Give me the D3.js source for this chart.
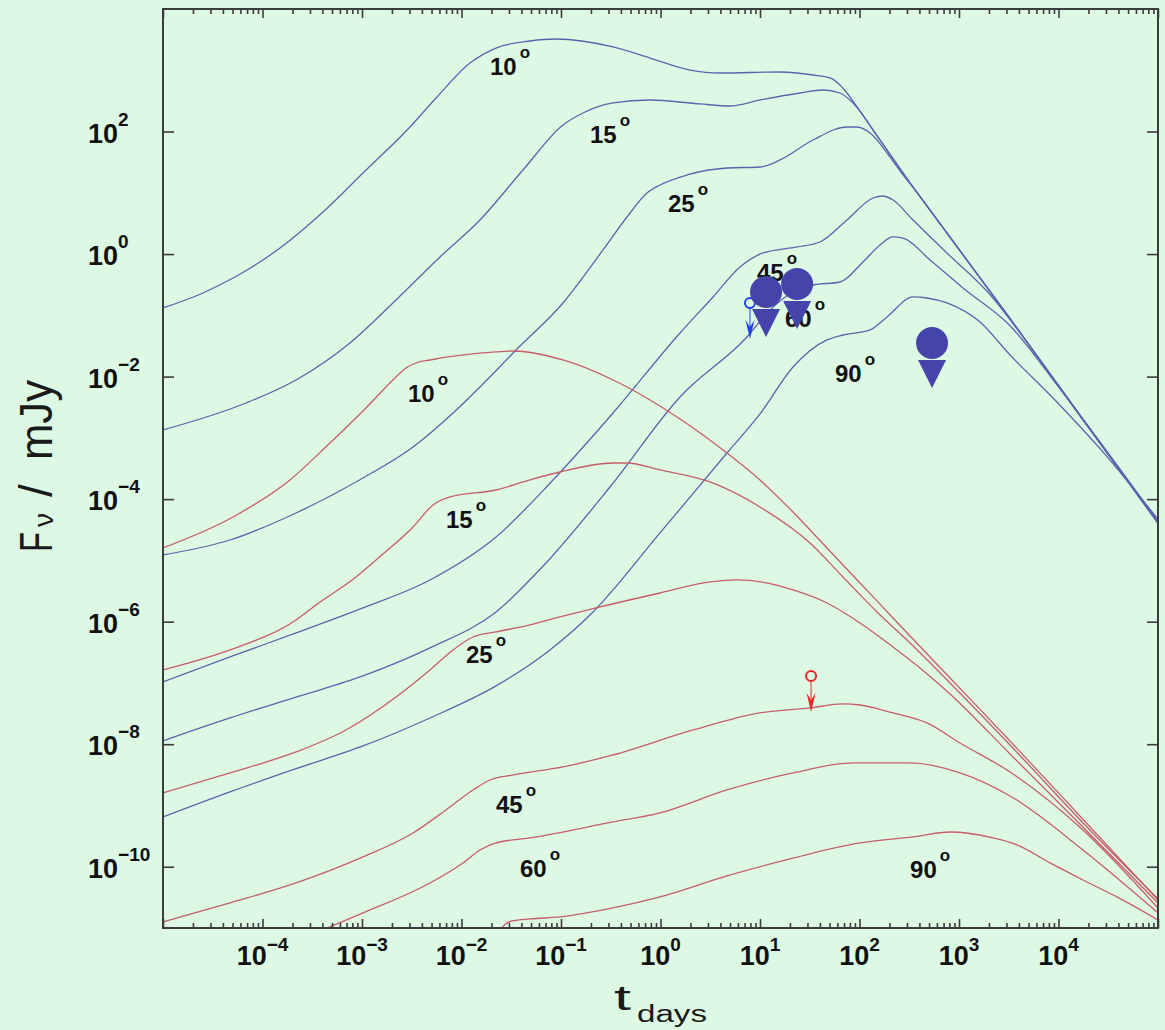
<!DOCTYPE html>
<html>
<head>
<meta charset="utf-8">
<script src="https://cdn.jsdelivr.net/npm/d3@7"></script>
<style>
  html, body { margin: 0; padding: 0; background: #ddf9e3; }
  svg { display: block; }
</style>
</head>
<body>
<svg id="chart" width="1165" height="1030"></svg>
<script>
// Afterglow light curves for several viewing angles.
// Each point is [log10 t (days), log10 F_nu (mJy)].

// Upper (blue) family
const blue10 = [[-5.000,-0.880],[-4.598,-0.635],[-4.296,-0.391],[-3.824,0.099],[-3.392,0.687],[-2.990,1.323],[-2.518,2.074],[-2.256,2.547],[-1.915,3.119],[-1.653,3.363],[-1.312,3.478],[-1.050,3.510],[-0.477,3.380],[-0.106,3.200],[0.296,3.004],[0.598,2.955],[1.201,2.972],[1.533,2.923],[1.704,2.874],[1.804,2.760],[1.874,2.629],[1.975,2.401],[2.206,1.862],[2.538,1.095],[2.879,0.344],[3.500,-1.023],[4.250,-2.706],[5.000,-4.389]];
const blue15 = [[-5.000,-2.871],[-4.166,-2.431],[-3.663,-2.055],[-3.121,-1.451],[-2.658,-0.749],[-2.216,-0.048],[-1.814,0.556],[-1.382,1.372],[-0.980,2.107],[-0.779,2.303],[-0.477,2.466],[-0.106,2.515],[0.397,2.450],[0.698,2.417],[1.000,2.515],[1.402,2.629],[1.633,2.678],[1.804,2.629],[1.925,2.482],[2.206,1.860],[2.538,1.093],[2.879,0.342],[3.500,-1.025],[4.250,-2.708],[5.000,-4.392]];
const blue25 = [[-5.000,-4.911],[-4.327,-4.667],[-3.663,-4.226],[-2.990,-3.655],[-2.487,-3.149],[-2.085,-2.594],[-1.814,-2.169],[-1.452,-1.566],[-0.980,-0.798],[-0.578,0.067],[-0.337,0.605],[-0.136,0.997],[-0.005,1.127],[0.266,1.291],[0.668,1.405],[1.000,1.421],[1.201,1.536],[1.533,1.862],[1.874,2.074],[1.975,2.074],[2.106,1.976],[2.307,1.584],[2.437,1.291],[2.538,1.090],[2.879,0.340],[3.500,-1.027],[4.250,-2.710],[5.000,-4.394]];
const blue45 = [[-5.000,-6.984],[-4.327,-6.576],[-3.663,-6.184],[-2.990,-5.776],[-2.317,-5.320],[-1.653,-4.618],[-1.080,-3.687],[-0.477,-2.594],[0.196,-1.288],[0.528,-0.700],[0.799,-0.211],[1.030,0.018],[1.372,0.116],[1.603,0.197],[1.874,0.556],[2.136,0.915],[2.236,0.948],[2.337,0.883],[2.538,0.556],[2.879,0.018],[3.342,-0.717],[3.513,-1.070],[4.250,-2.720],[5.000,-4.375]];
const blue60 = [[-5.000,-7.947],[-4.327,-7.572],[-3.623,-7.213],[-2.990,-6.886],[-2.317,-6.429],[-1.653,-5.842],[-1.151,-5.042],[-0.508,-3.802],[0.196,-2.333],[0.869,-1.353],[1.101,-0.913],[1.332,-0.619],[1.533,-0.505],[1.804,-0.456],[2.035,-0.129],[2.206,0.148],[2.337,0.279],[2.437,0.262],[2.709,-0.097],[3.040,-0.554],[3.513,-1.170],[4.015,-2.200],[5.000,-4.360]];
const blue90 = [[-5.000,-9.188],[-4.327,-8.779],[-3.663,-8.400],[-2.990,-8.029],[-2.317,-7.572],[-1.653,-7.049],[-1.111,-6.462],[-0.678,-5.842],[-0.005,-4.552],[0.668,-3.247],[1.000,-2.610],[1.332,-1.843],[1.673,-1.402],[1.834,-1.321],[2.106,-1.239],[2.276,-1.027],[2.538,-0.700],[2.678,-0.717],[2.879,-0.798],[3.211,-1.109],[3.513,-1.647],[3.945,-2.350],[4.500,-3.330],[5.000,-4.330]];

// Lower (red) family
const red10 = [[-5.000,-4.797],[-4.296,-4.291],[-3.724,-3.687],[-3.322,-3.083],[-2.990,-2.561],[-2.658,-2.006],[-2.558,-1.859],[-2.457,-1.778],[-2.317,-1.729],[-1.653,-1.598],[-1.482,-1.582],[-0.980,-1.729],[-0.477,-2.055],[-0.337,-2.169],[0.166,-2.659],[0.668,-3.247],[1.000,-3.687],[1.332,-4.210],[1.673,-4.797],[2.005,-5.368],[2.337,-5.940],[2.910,-6.919],[3.513,-7.947],[4.250,-9.233],[5.000,-10.542]];
const red15 = [[-5.000,-6.788],[-4.327,-6.462],[-3.663,-5.972],[-3.462,-5.727],[-3.060,-5.271],[-2.859,-4.993],[-2.487,-4.454],[-2.286,-4.095],[-2.116,-3.965],[-1.653,-3.851],[-1.312,-3.687],[-1.010,-3.557],[-0.477,-3.410],[-0.337,-3.410],[-0.005,-3.524],[0.497,-3.720],[1.000,-4.128],[1.503,-4.716],[1.834,-5.271],[2.176,-5.842],[2.508,-6.348],[2.910,-7.000],[3.513,-8.012],[4.250,-9.290],[5.000,-10.526]];
const red25 = [[-5.000,-8.796],[-4.327,-8.469],[-3.663,-8.127],[-3.161,-7.768],[-2.658,-7.229],[-2.317,-6.788],[-2.085,-6.462],[-1.884,-6.250],[-1.653,-6.168],[-1.312,-6.054],[-1.010,-5.923],[-0.648,-5.776],[-0.005,-5.532],[0.497,-5.352],[0.769,-5.319],[1.070,-5.368],[1.332,-5.483],[1.673,-5.695],[2.005,-6.021],[2.337,-6.413],[2.608,-6.756],[2.910,-7.180],[3.513,-8.159],[4.250,-9.360],[5.000,-10.591]];
const red45 = [[-5.000,-10.902],[-4.327,-10.591],[-3.663,-10.265],[-2.990,-9.840],[-2.487,-9.449],[-2.156,-9.073],[-1.884,-8.747],[-1.714,-8.584],[-1.482,-8.502],[-0.980,-8.371],[-0.477,-8.176],[0.327,-7.768],[1.000,-7.490],[1.503,-7.408],[1.834,-7.343],[2.005,-7.360],[2.337,-7.490],[2.678,-7.653],[3.010,-7.980],[3.513,-8.453],[4.246,-9.400],[5.000,-10.673]];
const red60 = [[-3.600,-11.170],[-3.322,-10.983],[-2.990,-10.754],[-2.317,-10.265],[-1.985,-9.938],[-1.814,-9.726],[-1.653,-9.612],[-1.312,-9.530],[-0.477,-9.269],[-0.005,-9.122],[0.668,-8.747],[1.332,-8.469],[1.935,-8.306],[2.508,-8.306],[3.010,-8.469],[3.513,-8.845],[4.246,-9.726],[5.000,-10.754]];
const red90 = [[-1.620,-11.100],[-1.593,-11.000],[-1.492,-10.885],[-1.312,-10.852],[-1.010,-10.820],[-0.477,-10.673],[-0.005,-10.493],[0.668,-10.150],[1.332,-9.860],[2.005,-9.612],[2.538,-9.514],[2.910,-9.433],[3.342,-9.530],[3.583,-9.644],[3.915,-9.938],[4.246,-10.216],[4.588,-10.493],[5.000,-10.869]];

// Angle labels, anchored in data space [log10 t, log10 F]
const angleNames = ["10", "15", "25", "45", "60", "90"];
const blueLabelAt = [[-1.714,2.923],[-0.709,1.813],[0.075,0.687],[0.970,-0.439],[1.251,-1.190],[1.754,-2.088]];
const redLabelAt  = [[-2.538,-2.414],[-2.156,-4.471],[-1.955,-6.674],[-1.653,-9.122],[-1.412,-10.167],[2.508,-10.183]];

// Observational upper limits (t in days, F in mJy)
const limitT = [11.5, 23.6, 536];
const limitF = [0.240, 0.325, 0.0354];
const blueLimitT = [7.93];
const blueLimitF = [0.159];
const redLimitT = [32.6];
const redLimitF = [1.30e-7];

// Axis tick exponents
const xLabelExps = [-4, -3, -2, -1, 0, 1, 2, 3, 4];
const yLabelExps = [2, 0, -2, -4, -6, -8, -10];

const toLin = pts => pts.map(([a, b]) => [Math.pow(10, a), Math.pow(10, b)]);

const blueCurves = [blue10, blue15, blue25, blue45, blue60, blue90].map(toLin);
const redCurves  = [red10, red15, red25, red45, red60, red90].map(toLin);

const L = 163, R = 1158, T = 9, B = 928;
const x = d3.scaleLog().domain([1e-5, 1e5]).range([L, R]);
const y = d3.scaleLog().domain([1e-11, 1e4]).range([B, T]);

const svg = d3.select("#chart");
svg.append("rect").attr("width", 1165).attr("height", 1030).attr("fill", "#ddf9e3");

svg.append("clipPath").attr("id", "plot-clip")
  .append("rect").attr("x", L).attr("y", T).attr("width", R - L).attr("height", B - T);

// Curves
const line = d3.line().x(d => x(d[0])).y(d => y(d[1])).curve(d3.curveMonotoneX);
const curves = svg.append("g").attr("clip-path", "url(#plot-clip)").attr("fill", "none");
curves.selectAll("path.blue").data(blueCurves).join("path")
  .attr("class", "blue").attr("d", line)
  .attr("stroke", "#5b64ad").attr("stroke-width", 1.3);
curves.selectAll("path.red").data(redCurves).join("path")
  .attr("class", "red").attr("d", line)
  .attr("stroke", "#c65d68").attr("stroke-width", 1.3);

// Ticks
const xMajor = d3.range(-5, 6).map(e => Math.pow(10, e));
const xMinor = [];
for (let e = -5; e < 5; e++) for (let k = 2; k < 10; k++) xMinor.push(k * Math.pow(10, e));
const yMajor = d3.range(-10, 3, 2).map(e => Math.pow(10, e));

function styleAxis(g) {
  g.select(".domain").remove();
  g.selectAll(".tick line").attr("stroke", "#3c3c3c").attr("stroke-width", 1.6);
  g.selectAll(".tick text").remove();
}
svg.append("g").attr("transform", `translate(0,${B})`)
  .call(d3.axisBottom(x).tickValues(xMinor).tickSize(-5).tickFormat("")).call(styleAxis);
svg.append("g").attr("transform", `translate(0,${B})`)
  .call(d3.axisBottom(x).tickValues(xMajor).tickSize(-9).tickFormat("")).call(styleAxis);
svg.append("g").attr("transform", `translate(0,${T})`)
  .call(d3.axisTop(x).tickValues(xMinor).tickSize(-5).tickFormat("")).call(styleAxis);
svg.append("g").attr("transform", `translate(0,${T})`)
  .call(d3.axisTop(x).tickValues(xMajor).tickSize(-9).tickFormat("")).call(styleAxis);
svg.append("g").attr("transform", `translate(${L},0)`)
  .call(d3.axisLeft(y).tickValues(yMajor).tickSize(-11).tickFormat("")).call(styleAxis);
svg.append("g").attr("transform", `translate(${R},0)`)
  .call(d3.axisRight(y).tickValues(yMajor).tickSize(-11).tickFormat("")).call(styleAxis);

// Frame
svg.append("rect").attr("x", L).attr("y", T).attr("width", R - L).attr("height", B - T)
  .attr("fill", "none").attr("stroke", "#3c3c3c").attr("stroke-width", 2);

const expText = e => (e < 0 ? "\u2212" + (-e) : String(e));
const labelFont = "'Liberation Sans', Arial, sans-serif";

// Tick labels
const xl = svg.append("g").attr("font-family", labelFont).attr("font-weight", "bold").attr("fill", "#111");
xLabelExps.forEach(e => {
  const t = xl.append("text").attr("x", x(Math.pow(10, e))).attr("y", 965)
    .attr("text-anchor", "middle").attr("font-size", 27);
  t.append("tspan").text("10");
  t.append("tspan").attr("font-size", 19).attr("dy", -14).text(expText(e));
});
const yl = svg.append("g").attr("font-family", labelFont).attr("font-weight", "bold").attr("fill", "#111");
yLabelExps.forEach(e => {
  const t = yl.append("text").attr("x", 88).attr("y", y(Math.pow(10, e)) + 11)
    .attr("font-size", 27);
  t.append("tspan").text("10");
  t.append("tspan").attr("font-size", 19).attr("dy", -17).text(expText(e));
});

// Axis titles
const yTitle = svg.append("g").attr("transform", "translate(52,552) rotate(-90)")
  .attr("font-family", labelFont).attr("fill", "#1a1a1a");
yTitle.append("text").attr("x", 0).attr("y", 0).attr("font-size", 46)
  .attr("textLength", 20).attr("lengthAdjust", "spacingAndGlyphs").text("F");
yTitle.append("text").attr("x", 25).attr("y", 1).attr("font-size", 28)
  .attr("textLength", 14).attr("lengthAdjust", "spacingAndGlyphs").text("\u03BD");
yTitle.append("text").attr("x", 55).attr("y", 0).attr("font-size", 46).text("/");
yTitle.append("text").attr("x", 92).attr("y", 0).attr("font-size", 46)
  .attr("textLength", 80).attr("lengthAdjust", "spacingAndGlyphs").text("mJy");

const xTitle = svg.append("g").attr("font-family", labelFont).attr("fill", "#1a1a1a");
xTitle.append("text").attr("x", 614).attr("y", 1010).attr("font-size", 35)
  .attr("textLength", 17).attr("lengthAdjust", "spacingAndGlyphs").text("t");
xTitle.append("text").attr("x", 637).attr("y", 1022).attr("font-size", 23)
  .attr("textLength", 70).attr("lengthAdjust", "spacingAndGlyphs").text("days");

// Angle labels
const angleLayer = svg.append("g").attr("font-family", labelFont).attr("font-weight", "bold").attr("fill", "#111");
function angleLabel(at, name) {
  const t = angleLayer.append("text")
    .attr("x", x(Math.pow(10, at[0]))).attr("y", y(Math.pow(10, at[1])))
    .attr("font-size", 24);
  t.append("tspan").text(name);
  t.append("tspan").attr("font-size", 17).attr("dx", 3).attr("dy", -17).text("o");
}
blueLabelAt.forEach((p, i) => angleLabel(p, angleNames[i]));
redLabelAt.forEach((p, i) => angleLabel(p, angleNames[i]));

// Small open-circle upper limits with arrows
function smallLimit(tv, fv, color) {
  const cx = x(tv), cy = y(fv);
  const g = svg.append("g");
  g.append("circle").attr("cx", cx).attr("cy", cy).attr("r", 5)
    .attr("fill", "none").attr("stroke", color).attr("stroke-width", 2);
  g.append("line").attr("x1", cx).attr("x2", cx).attr("y1", cy + 5).attr("y2", cy + 30)
    .attr("stroke", color).attr("stroke-width", 1.4).attr("opacity", 0.7);
  g.append("path")
    .attr("d", `M${cx - 4.5},${cy + 17} L${cx},${cy + 36} L${cx + 4.5},${cy + 17} L${cx},${cy + 24} Z`)
    .attr("fill", color);
}
blueLimitT.forEach((tv, i) => smallLimit(tv, blueLimitF[i], "#2040f0"));
redLimitT.forEach((tv, i) => smallLimit(tv, redLimitF[i], "#e62828"));

// Large filled upper-limit markers
const limits = svg.append("g").attr("fill", "#4444aa");
limitT.forEach((tv, i) => {
  const cx = x(tv), cy = y(limitF[i]);
  limits.append("circle").attr("cx", cx).attr("cy", cy).attr("r", 16);
  limits.append("path")
    .attr("d", `M${cx - 14},${cy + 17} L${cx + 14},${cy + 17} L${cx},${cy + 45} Z`);
});
</script>
</body>
</html>
